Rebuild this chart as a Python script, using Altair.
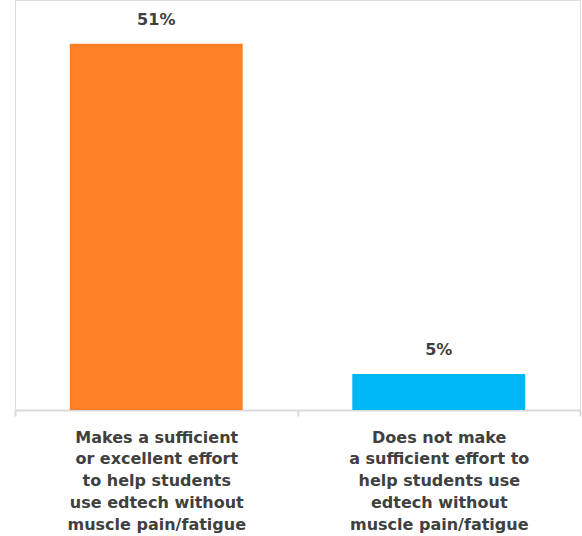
import altair as alt
import pandas as pd

categories = [
    "Makes a sufficient|or excellent effort|to help students|use edtech without|muscle pain/fatigue",
    "Does not make|a sufficient effort to|help students use|edtech without|muscle pain/fatigue",
]
values = [51, 5]
labels = ["51%", "5%"]
colors = ["#FF7F27", "#00B7F5"]

df = pd.DataFrame({"cat": categories, "val": values, "lab": labels, "col": colors})

FONT = "DejaVu Sans"

x = alt.X(
    "cat:N",
    sort=categories,
    scale=alt.Scale(paddingInner=0, paddingOuter=0),
    axis=alt.Axis(
        title=None,
        labelAngle=0,
        labelExpr="split(datum.label, '|')",
        labelFont=FONT,
        labelFontWeight="bold",
        labelFontSize=16,
        labelColor="#404040",
        labelLineHeight=21.8,
        labelPadding=13,
        labelBaseline="top",
        domainColor="#D9D9D9",
        domainWidth=2,
        tickColor="#D9D9D9",
        tickWidth=2,
        tickSize=6,
        tickBand="extent",
        labelLimit=300,
    ),
)
y = alt.Y("val:Q", scale=alt.Scale(domain=[0, 57.1], nice=False), axis=None)

bars = alt.Chart(df).mark_bar(width=alt.RelativeBandSize(0.612)).encode(
    x=x, y=y, color=alt.Color("col:N", scale=None)
)
text = alt.Chart(df).mark_text(
    dy=-24, font=FONT, fontWeight="bold", fontSize=16, color="#404040"
).encode(x=x, y=y, text="lab:N")

chart = (
    alt.layer(bars, text)
    .properties(
        width=565,
        height=410,
        autosize=alt.AutoSizeParams(type="none"),
        padding={"left": 15, "top": 0, "right": 2, "bottom": 126},
    )
    .configure_view(stroke="transparent", strokeWidth=0)
    .configure(background="white")
)

chart.save("out.html", embed_options={"renderer": "svg", "actions": False})
